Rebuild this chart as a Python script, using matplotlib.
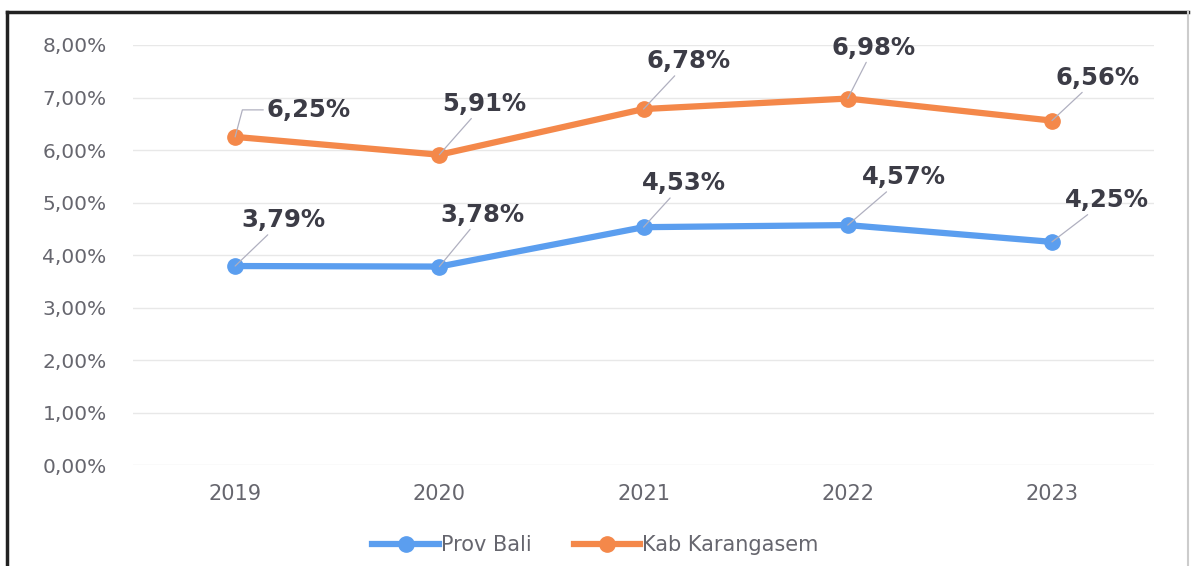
import matplotlib.pyplot as plt
from matplotlib.lines import Line2D

years = ["2019", "2020", "2021", "2022", "2023"]
prov_bali = [3.79, 3.78, 4.53, 4.57, 4.25]
kab_karangasem = [6.25, 5.91, 6.78, 6.98, 6.56]
series_names = ["Prov Bali", "Kab Karangasem"]

# label offsets (pixels) from each point
bali_offsets = [(48, 46), (43, 52), (40, 44), (56, 48), (55, 42)]
karangasem_offsets = [(73, 27), (45, 51), (45, 48), (26, 51), (46, 43)]

blue = "#5B9EEF"
orange = "#F4884A"


def pct(v):
    return f"{v:.2f}".replace(".", ",") + "%"


fig = plt.figure(figsize=(11.91, 5.66), dpi=100)
ax = fig.add_axes([0.1117, 0.1784, 0.8573, 0.7421])

x = range(len(years))
ax.plot(x, prov_bali, color=blue, lw=4.5, marker="o", ms=11, label=series_names[0])
ax.plot(x, kab_karangasem, color=orange, lw=4.5, marker="o", ms=11, label=series_names[1])

for vals, offs in [(prov_bali, bali_offsets), (kab_karangasem, karangasem_offsets)]:
    for i, (v, o) in enumerate(zip(vals, offs)):
        arrow = dict(arrowstyle="-", color="#b0b0c0", lw=0.9, shrinkA=0, shrinkB=0)
        if o[1] < 30:
            # this label sits beside its point: bent leader line
            arrow.update(relpos=(0, 0.5), connectionstyle="angle,angleA=180,angleB=75,rad=0")
        ax.annotate(pct(v), (i, v), xytext=o, textcoords="offset pixels",
                    ha="center", va="center", fontsize=17.5, fontweight="bold",
                    color="#3c3c46", arrowprops=arrow)

ax.set_xlim(-0.5, len(years) - 0.5)
ax.set_ylim(0, 8)
ax.set_yticks(range(0, 9))
ax.set_yticklabels([pct(v) for v in range(0, 9)])
ax.set_xticks(list(x))
ax.set_xticklabels(years)
ax.tick_params(axis="y", length=0, pad=19, labelsize=14.5, labelcolor="#66666e")
ax.tick_params(axis="x", length=0, pad=14, labelsize=15, labelcolor="#66666e")
ax.grid(axis="y", color="#e8e8e8", lw=1)
ax.set_axisbelow(True)
for s in ax.spines.values():
    s.set_visible(False)

fig.legend(loc="center", bbox_to_anchor=(0.5, 0.037), ncol=2, frameon=False,
           fontsize=15, handlelength=3.2, handletextpad=0.1, columnspacing=2.0,
           labelcolor="#66666e")

# scanned frame around the chart
fig.add_artist(Line2D([7 / 1191, 7 / 1191], [-0.1, 1 - 12 / 566], color="#222222", lw=2.5))
fig.add_artist(Line2D([7 / 1191, 1188 / 1191], [1 - 12 / 566, 1 - 12 / 566], color="#222222", lw=2.5))
fig.add_artist(Line2D([1188 / 1191, 1188 / 1191], [-0.1, 1 - 12 / 566], color="#cccccc", lw=1.5))

fig.savefig("out.png", dpi=100)
